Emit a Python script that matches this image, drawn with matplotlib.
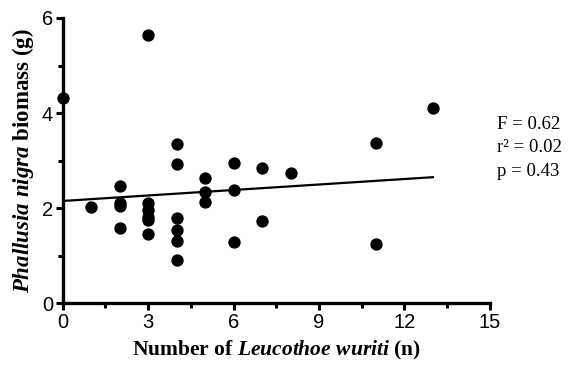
import matplotlib as m
m.use("Agg")
import matplotlib.pyplot as plt
from matplotlib.ticker import MultipleLocator

# counts of Leucothoe wuriti and biomass of Phallusia nigra
counts = [0, 1, 2, 2, 2, 2, 3, 3, 3, 3, 3, 3,
          4, 4, 4, 4, 4, 4, 5, 5, 5, 6, 6, 6, 7, 7, 8, 11, 11, 13]
biomass = [4.32, 2.02, 2.46, 2.11, 2.05, 1.58, 5.65, 2.1, 1.95, 1.81, 1.75, 1.45,
           3.35, 2.92, 1.8, 1.53, 1.3, 0.9, 2.63, 2.33, 2.13, 2.95, 2.39, 1.28,
           2.84, 1.73, 2.73, 3.36, 1.25, 4.1]
# regression line end points
fit_x = [0, 13]
fit_y = [2.15, 2.65]
stats = ["F = 0.62", "r\u00b2 = 0.02", "p = 0.43"]

plt.rcParams['mathtext.fontset'] = 'custom'
plt.rcParams['mathtext.it'] = 'Liberation Serif:italic:bold'
plt.rcParams['mathtext.rm'] = 'Liberation Serif:bold'

fig = plt.figure(figsize=(5.81, 3.67), dpi=100)
ax = fig.add_axes([0.108, 0.174, 0.735, 0.777])

ax.scatter(counts, biomass, s=62, color='black', zorder=3, clip_on=False)
ax.plot(fit_x, fit_y, color='black', lw=1.6)

ax.set_xlim(0, 15)
ax.set_ylim(0, 6)
ax.xaxis.set_major_locator(MultipleLocator(3))
ax.xaxis.set_minor_locator(MultipleLocator(1.5))
ax.yaxis.set_major_locator(MultipleLocator(2))
ax.yaxis.set_minor_locator(MultipleLocator(1))

for s in ['top', 'right']:
    ax.spines[s].set_visible(False)
for s in ['left', 'bottom']:
    ax.spines[s].set_linewidth(2.4)
ax.tick_params(which='major', length=5, width=2.2, labelsize=14.5, pad=2)
ax.tick_params(which='minor', length=3.5, width=2.2)
for lab in ax.get_xticklabels() + ax.get_yticklabels():
    lab.set_family('Liberation Sans')

ax.set_xlabel(r'Number of $Leucothoe\ wuriti$ (n)', family='Liberation Serif',
              fontweight='bold', fontsize=15.5, labelpad=5)
ax.set_ylabel(r'$Phallusia\ nigra$ biomass (g)', family='Liberation Serif',
              fontweight='bold', fontsize=16.5, labelpad=4)

for i, t in enumerate(stats):
    fig.text(0.855, 0.66 - i * 0.063, t, family='Liberation Serif', fontsize=13.5,
             va='center')

plt.savefig('out.png', dpi=100)
